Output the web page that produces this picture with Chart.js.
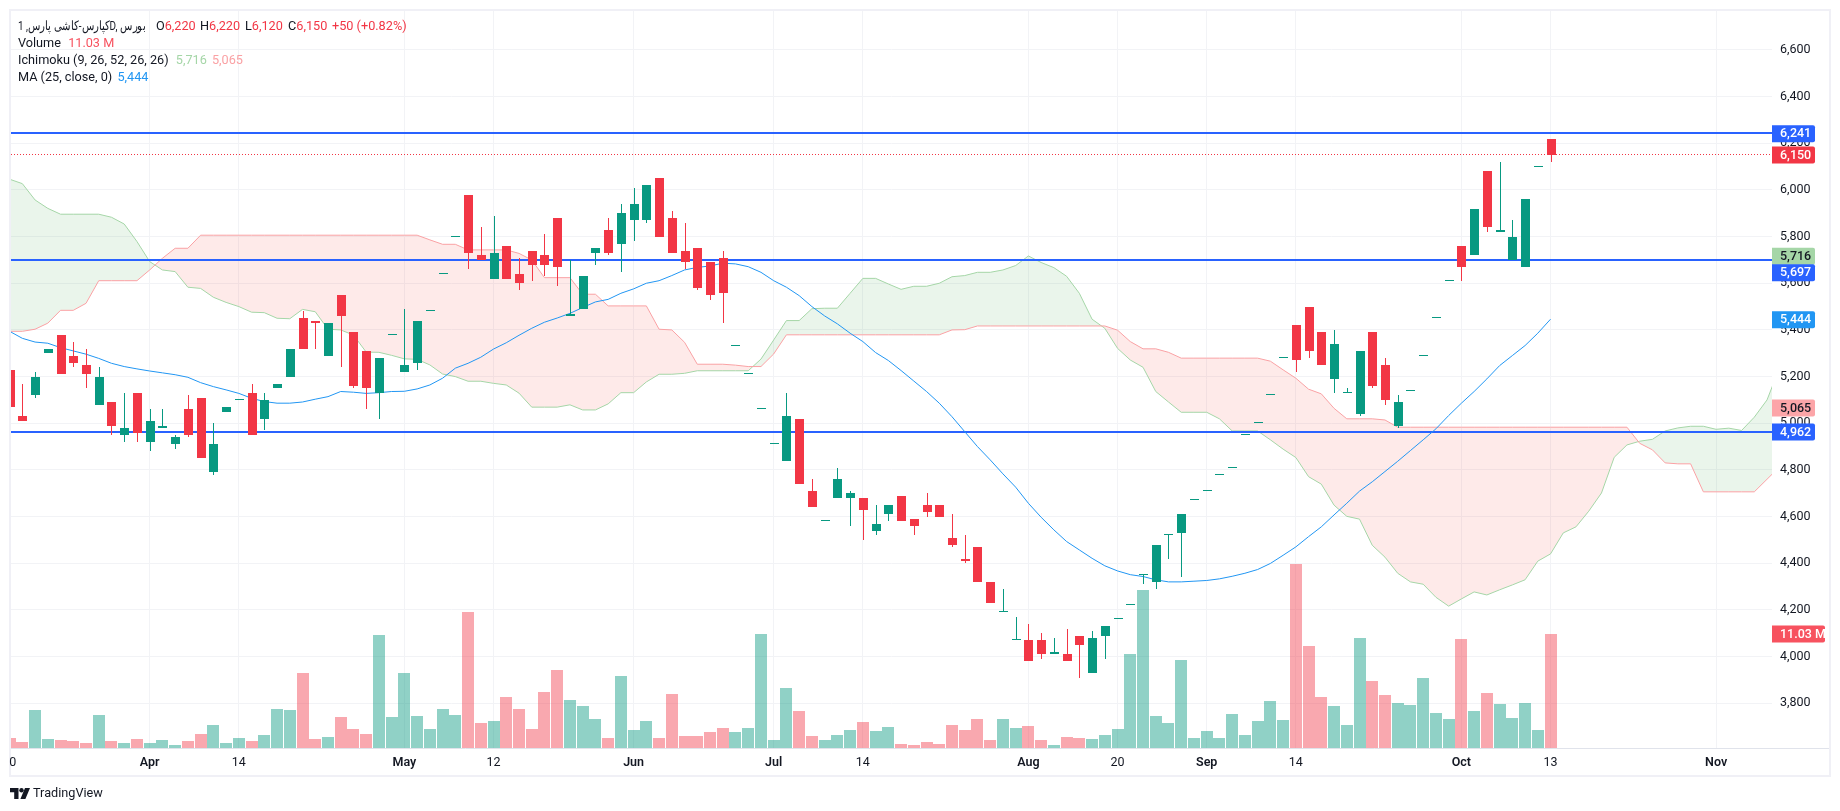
<!DOCTYPE html>
<html>
<head>
<meta charset="utf-8">
<title>chart</title>
<script src="https://cdn.jsdelivr.net/npm/chart.js@4"></script>
<style>
body { margin: 0; background: #fff; font-family: Roboto, sans-serif; color: #131722; }
#wrap { position: relative; width: 1840px; height: 811px; overflow: hidden; }
#myChart { position: absolute; left: 0; top: 0; }
.row { position: absolute; left: 18px; font-size: 12.7px; line-height: 17px; white-space: nowrap; }
.abs { position: absolute; top: 0; margin: 0 !important; }
.red { color: #F23645; }
#title { display: inline-block; transform: scaleX(0.78); transform-origin: left center; }
#brand { position: absolute; left: 10px; top: 784px; font-size: 12.7px; line-height: 18px; }
#brand svg { position: absolute; left: 0; top: 4px; }
#brand b { position: absolute; left: 23px; top: 0; font-weight: 400; }
</style>
</head>
<body>
<div id="wrap">
<canvas id="myChart" width="1840" height="811"></canvas>
<div class="row" style="top:17px;width:500px;height:17px">
  <bdi id="title" dir="ltr" style="unicode-bidi:normal">کپارس-کاشی پارس, 1D, بورس</bdi>
  <span class="abs" style="left:138px">O<i class="red" style="font-style:normal">6,220</i></span>
  <span class="abs" style="left:182px">H<i class="red" style="font-style:normal">6,220</i></span>
  <span class="abs" style="left:227px">L<i class="red" style="font-style:normal">6,120</i></span>
  <span class="abs" style="left:270px">C<i class="red" style="font-style:normal">6,150</i></span>
  <span class="abs red" style="left:314px">+50 (+0.82%)</span>
</div>
<div class="row" style="top:34px">Volume <span style="color:#F7525F;margin-left:4px">11.03 M</span></div>
<div class="row" style="top:51px">Ichimoku (9, 26, 52, 26, 26) <span style="color:#A5D6A7;margin-left:4px">5,716</span> <span style="color:#FAA1A4;margin-left:2px">5,065</span></div>
<div class="row" style="top:68px">MA (25, close, 0) <span style="color:#2196F3;margin-left:2px">5,444</span></div>
<div id="brand">
  <svg width="20" height="11" viewBox="0 0 20 11"><path d="M0 0h8.5v11H4.2V4.2H0z M15 0h5l-4.6 11h-5z" fill="#131722"/><circle cx="11.5" cy="2.2" r="2.2" fill="#131722"/></svg>
  <b>TradingView</b>
</div>
</div>

<script>
var OPENS = [
    5230,5030,5120,5300,5380,5290,5250,5080,5090,4950,
    5130,4920,4980,4910,5060,5110,4790,5050,5100,5130,
    5020,5150,5200,5450,5440,5290,5550,5390,5310,5130,
    5380,5220,5260,5480,5640,5800,5980,5720,5620,5760,
    5640,5740,5720,5880,5460,5490,5730,5830,5770,5870,
    5870,6050,5880,5740,5750,5690,5710,5330,5210,5060,
    4910,4840,5020,4710,4580,4680,4680,4680,4540,4610,
    4690,4590,4650,4650,4510,4420,4470,4320,4190,4070,
    4070,4070,4010,4010,4090,3930,4090,4160,4220,4350,
    4320,4520,4530,4670,4710,4780,4810,4950,5000,5120,
    5280,5420,5500,5390,5190,5130,5040,5390,5250,4990,
    5140,5290,5450,5610,5760,5720,6080,5820,5700,5670,
    6100,6220
];
var HIGHS = [
    5230,5170,5220,5320,5380,5350,5320,5240,5090,5130,
    5130,5060,5060,4950,5120,5110,5000,5070,5100,5170,
    5130,5170,5320,5480,5440,5430,5550,5390,5310,5280,
    5380,5490,5440,5480,5640,5800,5980,5840,5890,5760,
    5710,5740,5810,5880,5700,5630,5750,5880,5940,6010,
    6020,6050,5910,5860,5750,5690,5740,5330,5210,5060,
    4910,5130,5020,4760,4580,4810,4710,4680,4650,4650,
    4690,4590,4700,4650,4610,4520,4470,4320,4290,4170,
    4140,4100,4080,4120,4090,4110,4130,4160,4220,4350,
    4480,4520,4610,4670,4710,4780,4810,4950,5000,5120,
    5280,5420,5500,5390,5400,5150,5310,5390,5280,5120,
    5140,5290,5450,5610,5760,5920,6080,6120,5870,5960,
    6100,6220
];
var LOWS = [
    5000,5010,5110,5300,5210,5240,5150,5080,4950,4920,
    4920,4880,4980,4890,4940,4850,4780,5050,5100,4950,
    4970,5150,5200,5320,5320,5290,5240,5150,5060,5020,
    5380,5220,5230,5480,5640,5800,5660,5700,5620,5620,
    5570,5610,5630,5590,5460,5490,5680,5720,5650,5780,
    5860,5800,5730,5660,5570,5530,5430,5330,5210,5060,
    4910,4840,4740,4640,4580,4680,4560,4500,4520,4580,
    4580,4520,4600,4600,4470,4400,4320,4230,4190,4070,
    3980,3990,4010,3980,3910,3930,3990,4160,4220,4310,
    4290,4420,4340,4670,4710,4780,4810,4950,5000,5120,
    5280,5220,5280,5250,5130,5130,5030,5150,5080,4980,
    5140,5290,5450,5610,5610,5720,5820,5820,5700,5670,
    6100,6120
];
var CLOSES = [
    5070,5010,5200,5320,5210,5260,5210,5200,4990,4980,
    4960,5010,4990,4940,4950,4850,4910,5070,5100,4950,
    5100,5170,5320,5320,5430,5430,5460,5160,5150,5280,
    5380,5250,5440,5480,5640,5800,5730,5700,5730,5620,
    5600,5680,5680,5670,5470,5630,5750,5730,5900,5940,
    6020,5800,5730,5690,5580,5550,5560,5330,5210,5060,
    4910,5030,4740,4640,4580,4760,4700,4630,4570,4650,
    4580,4560,4620,4600,4480,4410,4320,4230,4190,4070,
    3980,4010,4020,3980,4050,4080,4130,4160,4220,4350,
    4480,4520,4610,4670,4710,4780,4810,4950,5000,5120,
    5280,5270,5310,5250,5340,5130,5310,5160,5100,5090,
    5140,5290,5450,5610,5670,5920,5840,5830,5800,5960,
    6100,6150
];
// millions
var VOLUMES = [
    1.0,0.6,3.7,0.9,0.8,0.7,0.5,3.2,0.7,0.5,
    0.9,0.5,0.8,0.3,0.7,1.4,2.2,0.5,1.0,0.7,
    1.3,3.8,3.7,7.3,0.9,1.1,3.0,1.8,1.4,10.9,
    3.0,7.3,3.1,1.8,3.8,3.2,13.2,2.4,2.6,4.9,
    3.8,1.8,5.4,7.5,4.6,4.1,2.8,1.0,7.0,1.7,
    2.6,1.0,5.2,1.2,1.2,1.5,1.9,1.5,1.9,11.0,
    0.8,5.8,3.6,1.2,0.8,1.3,1.7,2.5,1.6,2.0,
    0.4,0.3,0.6,0.4,2.2,1.7,2.8,0.8,2.8,1.9,
    2.1,0.8,0.3,1.1,1.0,0.9,1.3,1.8,9.1,15.3,
    3.1,2.4,8.5,1.0,1.6,1.0,3.3,1.3,2.6,4.5,
    2.7,17.8,9.9,4.9,4.1,2.2,10.6,6.5,5.1,4.4,
    4.2,6.8,3.4,2.8,10.5,3.6,5.3,4.3,2.9,4.4,
    1.7,11.03
];
var SPAN_A = [
    6046,6027,5957,5921,5896,5896,5896,5896,5883,5854,
    5779,5693,5657,5650,5583,5578,5540,5518,5500,5476,
    5474,5450,5448,5488,5478,5403,5400,5378,5305,5304,
    5291,5276,5274,5250,5211,5200,5180,5180,5171,5164,
    5129,5069,5069,5069,5079,5057,5057,5083,5131,5131,
    5177,5210,5210,5214,5225,5225,5225,5225,5225,5275,
    5357,5440,5440,5491,5493,5493,5557,5621,5621,5597,
    5574,5587,5587,5600,5628,5633,5647,5647,5657,5676,
    5717,5689,5667,5630,5557,5446,5407,5321,5271,5240,
    5136,5091,5047,5047,5047,5019,4967,4967,4967,4929,
    4889,4853,4771,4739,4649,4601,4589,4477,4426,4357,
    4320,4310,4254,4216,4247,4277,4264,4286,4307,4329,
    4409,4440,4530,4556,4623,4701,4854,4907,4923,4931,
    4967,4980,4987,4987,4974,4979,4969,5026,5100,5240
];
var SPAN_B = [
    5394,5394,5403,5429,5484,5484,5514,5611,5611,5611,
    5611,5657,5707,5750,5750,5806,5806,5806,5806,5806,
    5806,5806,5806,5806,5806,5806,5806,5806,5806,5806,
    5806,5806,5806,5786,5767,5767,5743,5743,5743,5743,
    5728,5700,5624,5624,5624,5553,5553,5503,5503,5503,
    5503,5403,5400,5347,5253,5253,5253,5249,5243,5243,
    5297,5379,5379,5379,5379,5379,5379,5379,5379,5379,
    5379,5379,5379,5379,5400,5401,5417,5417,5417,5417,
    5417,5417,5417,5417,5417,5417,5417,5399,5350,5319,
    5319,5304,5279,5279,5279,5279,5279,5279,5279,5266,
    5229,5193,5146,5126,5064,5019,5019,5019,5014,4983,
    4983,4983,4983,4983,4983,4983,4983,4983,4983,4983,
    4983,4983,4983,4983,4983,4983,4983,4983,4914,4886,
    4830,4826,4826,4706,4706,4706,4706,4706,4760,4814
];
var MA25 = [
    5394,5364,5348,5343,5324,5310,5296,5278,5257,5243,
    5233,5224,5216,5208,5197,5174,5157,5143,5128,5107,
    5093,5086,5086,5091,5103,5114,5136,5133,5128,5131,
    5136,5137,5147,5164,5193,5236,5257,5283,5318,5345,
    5377,5407,5433,5451,5471,5496,5520,5531,5557,5576,
    5600,5611,5633,5657,5668,5674,5686,5683,5671,5647,
    5611,5583,5547,5500,5460,5426,5386,5350,5303,5269,
    5226,5181,5136,5086,5028,4964,4900,4843,4783,4726,
    4657,4597,4543,4493,4457,4421,4389,4367,4351,4343,
    4329,4320,4320,4323,4326,4333,4344,4357,4373,4399,
    4434,4470,4514,4556,4607,4657,4709,4749,4793,4837,
    4883,4929,4976,5033,5086,5136,5190,5247,5290,5333,
    5386,5446
];
var LEVELS = [6241, 5697, 4962];
var LAST_CLOSE = 6150;
var LAST_VOLUME = 11.03;
var Y_TICKS = [3800,4000,4200,4400,4600,4800,5000,5200,5400,5600,5800,6000,6200,6400,6600];
var X_TICKS = [0.25,11,18,31,38,49,60,67,80,87,94,101,114,121,134];
var X_LABELS = ["0","Apr","14","May","12","Jun","Jul","14","Aug","20","Sep","14","Oct","13","Nov"];
var MONTHS = ["Apr","May","Jun","Jul","Aug","Sep","Oct","Nov"];

var GREEN = '#089981';
var RED = '#F23645';
var GRID = '#F2F3F6';

var X_MIN = 0.11;
var X_MAX = 138.39;

function isUp(i) {
    return CLOSES[i] >= OPENS[i];
}

function series(values) {
    return values.map(function(v, i) {
        return { x: i, y: v };
    });
}

function flatLine(value) {
    return [{ x: X_MIN, y: value }, { x: X_MAX, y: value }];
}

function money(v) {
    return v.toLocaleString('en-US');
}

// the layout leaves a few px for tick labels, pin the plot box to the frame
var pinArea = {
    id: 'pinArea',
    afterLayout: function(chart) {
        var area = chart.chartArea;
        var left = 11, top = 11;
        area.width += area.left - left;
        area.height += area.top - top;
        area.left = left;
        area.top = top;
        chart.scales.x.left = left;
        chart.scales.x.width = area.width;
        [chart.scales.y, chart.scales.v].forEach(function(s) {
            s.top = top;
            s.height = area.height;
        });
        [chart.scales.x, chart.scales.y, chart.scales.v].forEach(function(s) {
            s.configure();
        });
    }
};

// snap bars and flat lines to whole pixels, otherwise they go blurry
var snapMarks = {
    id: 'snapMarks',
    afterDatasetsUpdate: function(chart) {
        chart.data.datasets.forEach(function(ds, i) {
            var els = chart.getDatasetMeta(i).data;
            if (ds.type === 'bar') {
                var odd = ds.barThickness % 2 === 1;
                els.forEach(function(el) {
                    el.x = Math.round(el.x) + (odd ? 0.5 : 0);
                    el.y = Math.round(el.y);
                    el.base = Math.round(el.base);
                });
            } else if (ds.flat) {
                var half = ds.borderWidth % 2 === 1 ? 0.5 : 0;
                els.forEach(function(el) {
                    el.y = Math.floor(el.y) + half;
                });
            }
        });
    }
};

var frame = {
    id: 'frame',
    beforeDraw: function(chart) {
        var ctx = chart.ctx;
        var area = chart.chartArea;
        ctx.save();
        ctx.strokeStyle = '#F0F0F6';
        ctx.lineWidth = 2;
        ctx.strokeRect(10, 10, 1820, 766);
        ctx.strokeStyle = '#E0E3EB';
        ctx.lineWidth = 1;
        ctx.beginPath();
        ctx.moveTo(area.left, area.bottom + 0.5);
        ctx.lineTo(1829, area.bottom + 0.5);
        ctx.stroke();
        ctx.restore();
    }
};

function priceTag(chart, y, text, bg, fg, width) {
    var ctx = chart.ctx;
    var left = chart.chartArea.right;
    ctx.fillStyle = bg;
    ctx.beginPath();
    ctx.roundRect(left, y - 8.5, width, 17, [0, 2, 2, 0]);
    ctx.fill();
    ctx.fillStyle = fg;
    ctx.fillText(text, left + 8, y + 0.5);
}

var priceTags = {
    id: 'priceTags',
    afterDraw: function(chart) {
        var ctx = chart.ctx;
        var y = chart.scales.y;
        var v = chart.scales.v;
        ctx.save();
        ctx.font = '500 12.5px Roboto';
        ctx.textAlign = 'left';
        ctx.textBaseline = 'middle';
        priceTag(chart, y.getPixelForValue(5716), money(5716), '#A5D6A7', '#131722', 43);
        priceTag(chart, y.getPixelForValue(5065), money(5065), '#FCA5A8', '#131722', 43);
        priceTag(chart, y.getPixelForValue(5444), money(5444), '#2196F3', '#fff', 43);
        priceTag(chart, y.getPixelForValue(LAST_CLOSE), money(LAST_CLOSE), RED, '#fff', 43);
        priceTag(chart, y.getPixelForValue(LEVELS[0]), money(LEVELS[0]), '#2962FF', '#fff', 43);
        // 5,697 sits pushed down below the 5,716 tag
        priceTag(chart, y.getPixelForValue(LEVELS[1]) + 12, money(LEVELS[1]), '#2962FF', '#fff', 43);
        priceTag(chart, y.getPixelForValue(LEVELS[2]), money(LEVELS[2]), '#2962FF', '#fff', 43);
        priceTag(chart, v.getPixelForValue(LAST_VOLUME), LAST_VOLUME + ' M', '#F7525F', '#fff', 53);
        ctx.restore();
    }
};

var idx = OPENS.map(function(o, i) { return i; });

var datasets = [
    {
        type: 'bar',
        label: 'Volume',
        yAxisID: 'v',
        order: 7,
        grouped: false,
        barThickness: 12,
        inflateAmount: 0,
        data: idx.map(function(i) { return { x: i, y: VOLUMES[i] }; }),
        backgroundColor: idx.map(function(i) {
            return isUp(i) ? 'rgba(8,153,129,0.45)' : 'rgba(242,54,69,0.43)';
        })
    },
    {
        type: 'line',
        label: 'Leading A',
        order: 6,
        data: series(SPAN_A),
        borderColor: '#A5D6A7',
        borderWidth: 1,
        pointRadius: 0,
        fill: { target: '+1', above: 'rgba(67,160,71,0.11)', below: 'rgba(244,67,54,0.11)' }
    },
    {
        type: 'line',
        label: 'Leading B',
        order: 5,
        data: series(SPAN_B),
        borderColor: '#FAA1A4',
        borderWidth: 1,
        pointRadius: 0,
        fill: false
    },
    {
        type: 'line',
        label: 'Close',
        flat: true,
        order: 4,
        data: flatLine(LAST_CLOSE),
        borderColor: RED,
        borderWidth: 1,
        borderDash: [1, 2],
        pointRadius: 0,
        fill: false
    }
];

LEVELS.forEach(function(level) {
    datasets.push({
        type: 'line',
        label: 'Level ' + level,
        flat: true,
        order: 3,
        data: flatLine(level),
        borderColor: '#2962FF',
        borderWidth: 2,
        pointRadius: 0,
        fill: false
    });
});

datasets.push(
    {
        type: 'line',
        label: 'MA',
        order: 2,
        data: series(MA25),
        borderColor: '#2196F3',
        borderWidth: 1,
        pointRadius: 0,
        fill: false
    },
    {
        type: 'bar',
        label: 'Wick',
        order: 1,
        grouped: false,
        barThickness: 1,
        inflateAmount: 0,
        data: idx.map(function(i) { return { x: i, y: [LOWS[i], HIGHS[i]] }; }),
        backgroundColor: idx.map(function(i) { return isUp(i) ? GREEN : RED; })
    },
    {
        type: 'bar',
        label: 'Body',
        order: 0,
        grouped: false,
        barThickness: 9,
        minBarLength: 1,
        inflateAmount: 0,
        data: idx.map(function(i) { return { x: i, y: [OPENS[i], CLOSES[i]] }; }),
        backgroundColor: idx.map(function(i) { return isUp(i) ? GREEN : RED; })
    }
);

new Chart(document.getElementById('myChart').getContext('2d'), {
    data: { datasets: datasets },
    plugins: [pinArea, snapMarks, frame, priceTags],
    options: {
        responsive: false,
        animation: false,
        devicePixelRatio: 1,
        layout: { autoPadding: false, padding: { left: 11, top: 11, right: 10, bottom: 35 } },
        plugins: { legend: { display: false }, tooltip: { enabled: false } },
        scales: {
            x: {
                type: 'linear',
                offset: false,
                min: X_MIN,
                max: X_MAX,
                afterBuildTicks: function(scale) {
                    scale.ticks = X_TICKS.map(function(v) { return { value: v }; });
                },
                afterFit: function(scale) { scale.height = 28; },
                border: { display: false },
                grid: {
                    offset: false,
                    drawTicks: false,
                    color: function(c) { return c.index === 0 ? 'rgba(0,0,0,0)' : GRID; }
                },
                ticks: {
                    autoSkip: false,
                    maxRotation: 0,
                    padding: 7,
                    color: '#131722',
                    font: function(c) {
                        var month = c.tick && MONTHS.indexOf(X_LABELS[c.index]) >= 0;
                        return { family: 'Roboto', size: 12.5, weight: month ? '600' : '400' };
                    },
                    callback: function(v, i) { return X_LABELS[i]; }
                }
            },
            y: {
                type: 'linear',
                position: 'right',
                min: 3608,
                max: 6767,
                afterBuildTicks: function(scale) {
                    scale.ticks = Y_TICKS.map(function(v) { return { value: v }; });
                },
                afterFit: function(scale) { scale.width = 58; },
                border: { display: false },
                grid: { drawTicks: false, color: GRID },
                ticks: {
                    padding: 8,
                    crossAlign: 'near',
                    color: '#131722',
                    font: { family: 'Roboto', size: 12.5 },
                    callback: function(v) { return money(v); }
                }
            },
            v: {
                type: 'linear',
                display: false,
                min: 0,
                max: 71.3
            }
        }
    }
});
</script>
</body>
</html>
